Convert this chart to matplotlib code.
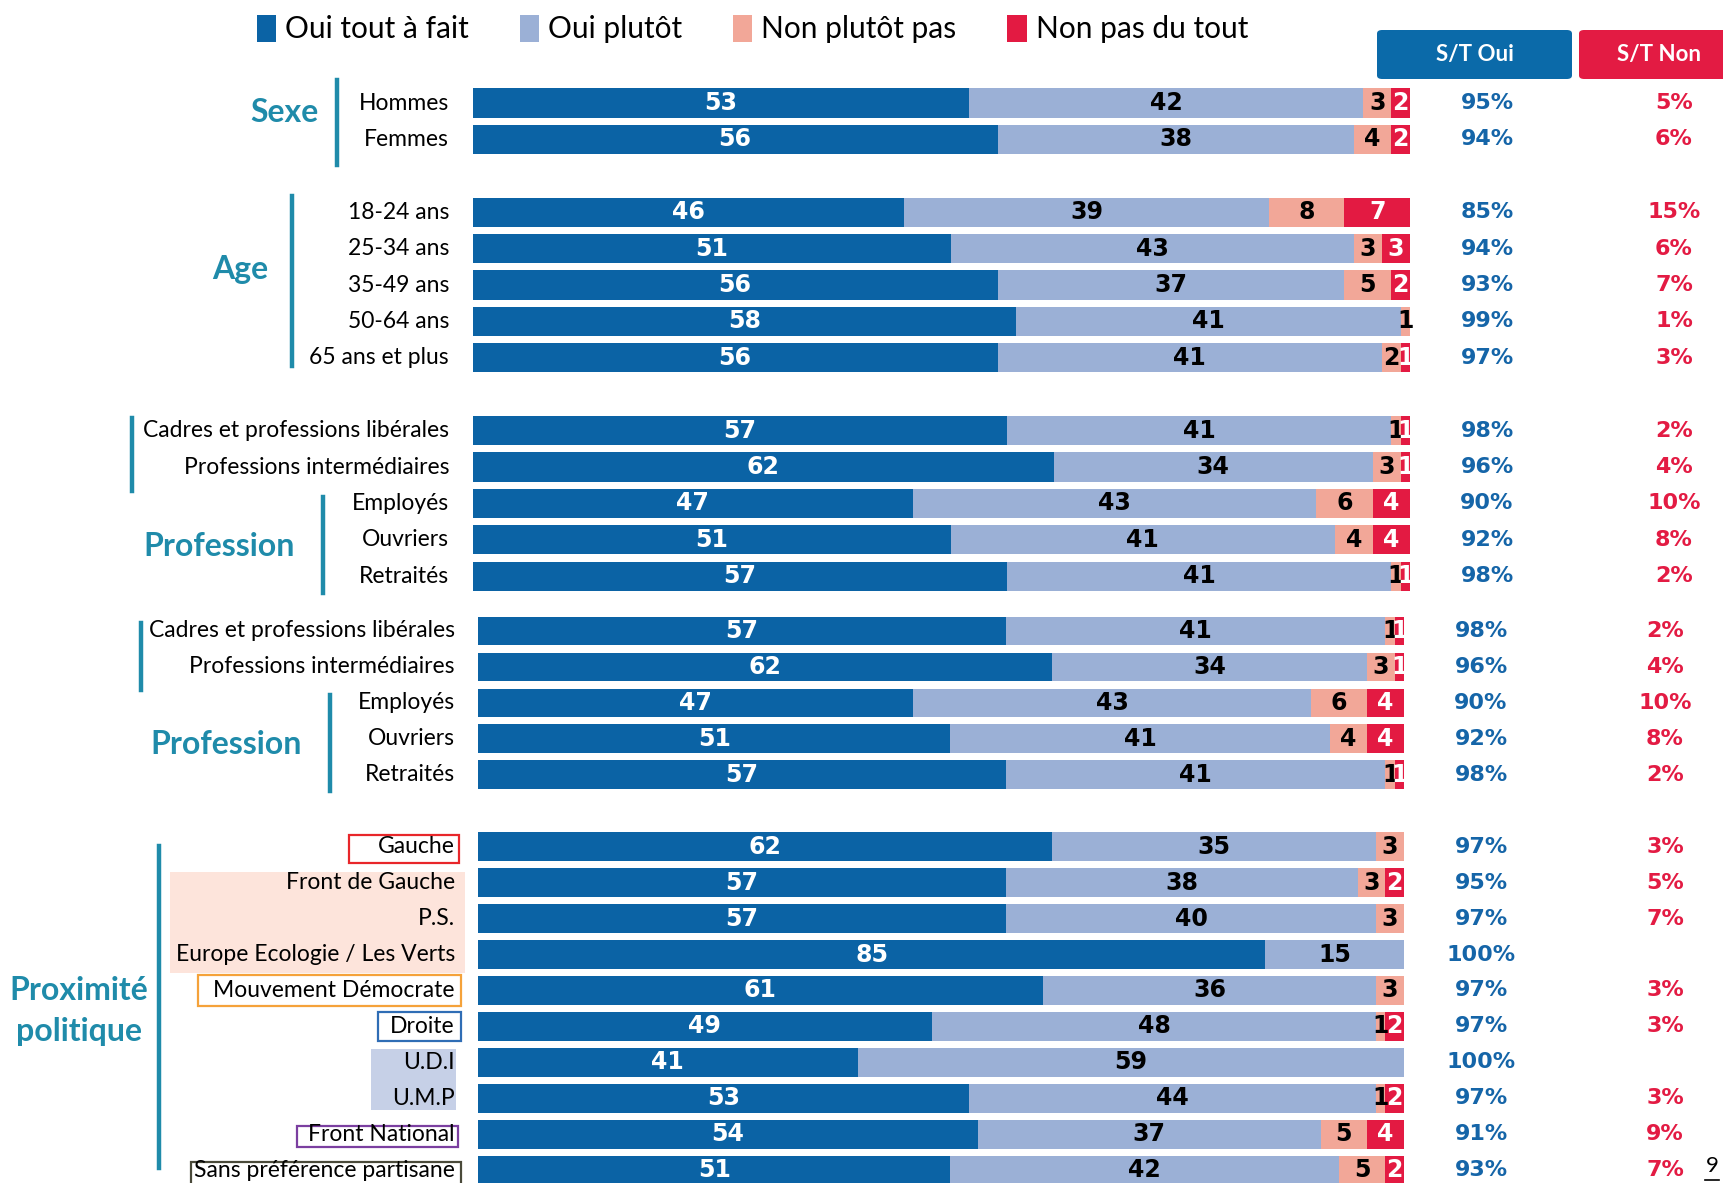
import matplotlib
matplotlib.use("Agg")
import matplotlib.pyplot as plt
from matplotlib.patches import Rectangle, FancyBboxPatch
from matplotlib.lines import Line2D
from matplotlib.transforms import blended_transform_factory

W, H = 1723, 1183

series_names = ["Oui tout à fait", "Oui plutôt", "Non plutôt pas", "Non pas du tout"]
colors = ["#0B63A5", "#9BB0D6", "#F2A798", "#E31A42"]
text_colors = ["white", "black", "black", "white"]
teal = "#1F8BAA"
blue_txt = "#1565A8"
red_txt = "#E31B43"

# top block: Sexe / Age / Profession
top_groups = [2, 5, 5]
top_labels = ["Hommes", "Femmes", "18-24 ans", "25-34 ans", "35-49 ans", "50-64 ans",
              "65 ans et plus", "Cadres et professions libérales",
              "Professions intermédiaires", "Employés", "Ouvriers", "Retraités"]
top_tout = [53, 56, 46, 51, 56, 58, 56, 57, 62, 47, 51, 57]
top_plutot = [42, 38, 39, 43, 37, 41, 41, 41, 34, 43, 41, 41]
top_plutot_pas = [3, 4, 8, 3, 5, 1, 2, 1, 3, 6, 4, 1]
top_pas = [2, 2, 7, 3, 2, 0, 1, 1, 1, 4, 4, 1]
top_st_oui = ["95%", "94%", "85%", "94%", "93%", "99%", "97%", "98%", "96%", "90%", "92%", "98%"]
top_st_non = ["5%", "6%", "15%", "6%", "7%", "1%", "3%", "2%", "4%", "10%", "8%", "2%"]

# bottom block: Profession (repeat) / Proximité politique
bot_groups = [5, 10]
bot_labels = ["Cadres et professions libérales", "Professions intermédiaires", "Employés",
              "Ouvriers", "Retraités", "Gauche", "Front de Gauche", "P.S.",
              "Europe Ecologie / Les Verts", "Mouvement Démocrate", "Droite", "U.D.I",
              "U.M.P", "Front National", "Sans préférence partisane"]
bot_tout = [57, 62, 47, 51, 57, 62, 57, 57, 85, 61, 49, 41, 53, 54, 51]
bot_plutot = [41, 34, 43, 41, 41, 35, 38, 40, 15, 36, 48, 59, 44, 37, 42]
bot_plutot_pas = [1, 3, 6, 4, 1, 3, 3, 3, 0, 3, 1, 0, 1, 5, 5]
bot_pas = [1, 1, 4, 4, 1, 0, 2, 0, 0, 0, 2, 0, 2, 4, 2]
bot_st_oui = ["98%", "96%", "90%", "92%", "98%", "97%", "95%", "97%", "100%", "97%",
              "97%", "100%", "97%", "91%", "93%"]
bot_st_non = ["2%", "4%", "10%", "8%", "2%", "3%", "5%", "7%", "", "3%", "3%", "",
              "3%", "9%", "7%"]

fig = plt.figure(figsize=(W / 100, H / 100), dpi=100)


def fx(x):
    return x / W


def fy(y):
    return 1 - y / H


def positions(groups):
    ys, y = [], 0
    for g in groups:
        ys += list(range(y, y + g))
        y += g + 1
    return ys


def block(left, right, y0, pitch, groups, labels, series, st_oui, st_non, oui_x, non_x):
    ys = positions(groups)
    n = ys[-1] + 1
    top = y0 - pitch / 2
    bottom = y0 + (n - 0.5) * pitch
    ax = fig.add_axes([fx(left), fy(bottom), (right - left) / W, (bottom - top) / H])
    ax.set_xlim(0, 100)
    ax.set_ylim(n - 0.5, -0.5)
    ax.axis("off")
    left_acc = [0] * len(ys)
    for vals, c, tc, name in zip(series, colors, text_colors, series_names):
        bars = ax.barh(ys, vals, left=left_acc, height=0.8, color=c, label=name)
        ax.bar_label(bars, labels=[str(v) if v else "" for v in vals], label_type="center",
                     color=tc, fontsize=17, fontweight="bold", family="DejaVu Sans")
        left_acc = [a + v for a, v in zip(left_acc, vals)]
    for y, lab in zip(ys, labels):
        ax.text(-2.5, y, lab, ha="right", va="center", fontsize=16.5, family="Lato",
                color="black")
    tr = blended_transform_factory(fig.transFigure, ax.transData)
    for y, so, sn in zip(ys, st_oui, st_non):
        ax.text(fx(oui_x), y, so, transform=tr, ha="center", va="center", fontsize=16,
                fontweight="bold", color=blue_txt, family="DejaVu Sans")
        ax.text(fx(non_x), y, sn, transform=tr, ha="center", va="center", fontsize=16,
                fontweight="bold", color=red_txt, family="DejaVu Sans")
    return ax


ax1 = block(472.5, 1410, 103, 36.4, top_groups, top_labels,
            [top_tout, top_plutot, top_plutot_pas, top_pas], top_st_oui, top_st_non, 1487, 1674)
ax2 = block(478, 1404, 631, 35.95, bot_groups, bot_labels,
            [bot_tout, bot_plutot, bot_plutot_pas, bot_pas], bot_st_oui, bot_st_non, 1481, 1665)

# legend
handles, names = ax1.get_legend_handles_labels()
fig.legend(handles, names, loc="upper left", bbox_to_anchor=(fx(230), fy(-12)), ncol=4,
           frameon=False, handlelength=0.65, handleheight=1.0, handletextpad=0.3,
           columnspacing=1.7, prop={"family": "Lato", "size": 21.5})

# header boxes
for x0, x1, txt, c in [(1377, 1572, "S/T Oui", "#0B6AA9"), (1579, 1740, "S/T Non", "#E31B43")]:
    fig.add_artist(FancyBboxPatch((fx(x0), fy(79)), (x1 - x0) / W, 49 / H,
                                  boxstyle="round,pad=0,rounding_size=0.003",
                                  transform=fig.transFigure, color=c, lw=0))
    fig.text(fx((x0 + min(x1, 1723)) / 2 + (8 if x1 > 1723 else 0)), fy(55), txt,
             ha="center", va="center", color="white", fontsize=16, fontweight="bold",
             family="Lato")

# group titles and brackets
groups_txt = [("Sexe", 284, 113), ("Age", 240, 270), ("Profession", 219, 546),
              ("Profession", 226, 745), ("Proximité", 79, 990), ("politique", 79, 1031)]
for t, x, y in groups_txt:
    fig.text(fx(x), fy(y), t, ha="center", va="center", fontsize=23, fontweight="bold",
             color=teal, family="Lato")
for x, ya, yb in [(337, 80, 165), (292, 196, 366), (132, 418, 491), (323, 497, 593),
                  (141, 623, 690), (330, 695, 791), (159, 846, 1168)]:
    fig.add_artist(Line2D([fx(x), fx(x)], [fy(ya), fy(yb)], color=teal, lw=3.2,
                          transform=fig.transFigure))

# party label decorations
for x0, y0, x1, y1, fc, ec in [(170, 872, 465, 973, "#FDE4DB", "none"),
                                (371, 1049, 456, 1110, "#C6D0E7", "none"),
                                (349, 835, 459, 863, "none", "#E8262A"),
                                (198, 975, 461, 1006, "none", "#F5A23A"),
                                (378, 1012, 461, 1041, "none", "#2F6DB5"),
                                (297, 1126, 458, 1147, "none", "#7B3FA0"),
                                (191, 1162, 461, 1190, "none", "#4A4A3A")]:
    fig.add_artist(Rectangle((fx(x0), fy(y1)), (x1 - x0) / W, (y1 - y0) / H,
                             transform=fig.transFigure, facecolor=fc, edgecolor=ec,
                             lw=1.6, zorder=0))

fig.text(fx(1712), fy(1166), "9", ha="center", va="center", fontsize=16, family="Lato")
fig.add_artist(Line2D([fx(1705), fx(1719)], [fy(1180), fy(1180)], color="black", lw=1.2,
                      transform=fig.transFigure))

fig.savefig("out.png", dpi=100)
